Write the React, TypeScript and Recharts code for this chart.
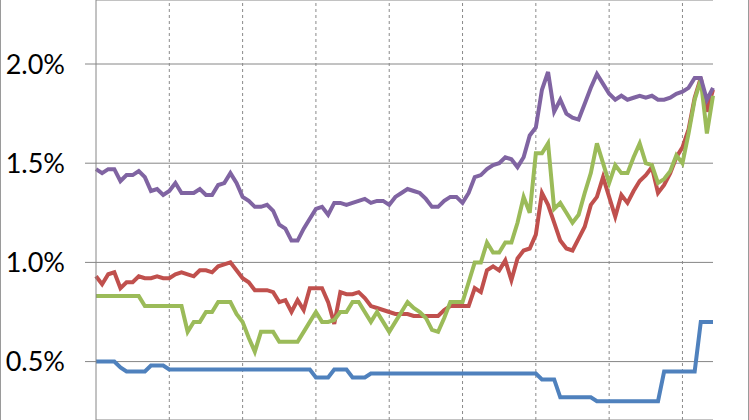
import React from 'react';
import { LineChart, Line, XAxis, YAxis, CartesianGrid, ReferenceLine } from 'recharts';

// monthly values, %
const blue = [
  0.50, 0.50, 0.50, 0.50, 0.47, 0.45, 0.45, 0.45, 0.45, 0.48, 0.48, 0.48,
  0.46, 0.46, 0.46, 0.46, 0.46, 0.46, 0.46, 0.46, 0.46, 0.46, 0.46, 0.46,
  0.46, 0.46, 0.46, 0.46, 0.46, 0.46, 0.46, 0.46, 0.46, 0.46, 0.46, 0.46,
  0.42, 0.42, 0.42, 0.46, 0.46, 0.46, 0.42, 0.42, 0.42, 0.44, 0.44, 0.44,
  0.44, 0.44, 0.44, 0.44, 0.44, 0.44, 0.44, 0.44, 0.44, 0.44, 0.44, 0.44,
  0.44, 0.44, 0.44, 0.44, 0.44, 0.44, 0.44, 0.44, 0.44, 0.44, 0.44, 0.44,
  0.44, 0.41, 0.41, 0.41, 0.32, 0.32, 0.32, 0.32, 0.32, 0.32, 0.30, 0.30,
  0.30, 0.30, 0.30, 0.30, 0.30, 0.30, 0.30, 0.30, 0.30, 0.45, 0.45, 0.45,
  0.45, 0.45, 0.45, 0.70, 0.70, 0.70,
];

const red = [
  0.93, 0.89, 0.94, 0.95, 0.87, 0.90, 0.90, 0.93, 0.92, 0.92, 0.93, 0.92,
  0.92, 0.94, 0.95, 0.94, 0.93, 0.96, 0.96, 0.95, 0.98, 0.99, 1.00, 0.96,
  0.92, 0.90, 0.86, 0.86, 0.86, 0.85, 0.80, 0.81, 0.75, 0.81, 0.76, 0.87,
  0.87, 0.87, 0.80, 0.69, 0.85, 0.84, 0.84, 0.85, 0.82, 0.78, 0.77, 0.76,
  0.75, 0.74, 0.74, 0.74, 0.73, 0.73, 0.73, 0.73, 0.73, 0.76, 0.78, 0.78,
  0.78, 0.78, 0.87, 0.85, 0.96, 0.98, 0.96, 1.01, 0.91, 1.02, 1.06, 1.07,
  1.14, 1.35, 1.29, 1.20, 1.11, 1.07, 1.06, 1.12, 1.18, 1.29, 1.33, 1.43,
  1.33, 1.23, 1.34, 1.30, 1.36, 1.41, 1.44, 1.48, 1.35, 1.39, 1.45, 1.53,
  1.58, 1.67, 1.83, 1.93, 1.76, 1.87,
];

const green = [
  0.83, 0.83, 0.83, 0.83, 0.83, 0.83, 0.83, 0.83, 0.78, 0.78, 0.78, 0.78,
  0.78, 0.78, 0.78, 0.65, 0.70, 0.70, 0.75, 0.75, 0.80, 0.80, 0.80, 0.74,
  0.70, 0.62, 0.55, 0.65, 0.65, 0.65, 0.60, 0.60, 0.60, 0.60, 0.65, 0.70,
  0.75, 0.70, 0.70, 0.71, 0.75, 0.75, 0.80, 0.80, 0.75, 0.70, 0.75, 0.70,
  0.65, 0.70, 0.75, 0.80, 0.77, 0.75, 0.72, 0.66, 0.65, 0.72, 0.80, 0.80,
  0.80, 0.90, 1.00, 1.00, 1.10, 1.05, 1.05, 1.10, 1.10, 1.20, 1.33, 1.25,
  1.55, 1.55, 1.60, 1.27, 1.30, 1.25, 1.20, 1.24, 1.35, 1.45, 1.60, 1.50,
  1.40, 1.49, 1.45, 1.45, 1.53, 1.60, 1.50, 1.49, 1.40, 1.42, 1.46, 1.54,
  1.50, 1.65, 1.82, 1.92, 1.65, 1.84,
];

const purple = [
  1.47, 1.45, 1.47, 1.47, 1.41, 1.44, 1.44, 1.46, 1.43, 1.36, 1.37, 1.34,
  1.36, 1.40, 1.35, 1.35, 1.35, 1.37, 1.34, 1.34, 1.39, 1.40, 1.45, 1.40,
  1.33, 1.31, 1.28, 1.28, 1.29, 1.26, 1.19, 1.17, 1.11, 1.11, 1.17, 1.22,
  1.27, 1.28, 1.24, 1.30, 1.30, 1.29, 1.30, 1.31, 1.32, 1.30, 1.31, 1.31,
  1.29, 1.33, 1.35, 1.37, 1.36, 1.35, 1.32, 1.28, 1.28, 1.31, 1.33, 1.33,
  1.30, 1.35, 1.43, 1.44, 1.47, 1.49, 1.50, 1.53, 1.52, 1.48, 1.53, 1.64,
  1.68, 1.87, 1.96, 1.76, 1.82, 1.75, 1.73, 1.72, 1.80, 1.88, 1.95, 1.90,
  1.85, 1.82, 1.84, 1.82, 1.83, 1.84, 1.83, 1.84, 1.82, 1.82, 1.83, 1.85,
  1.86, 1.88, 1.93, 1.93, 1.82, 1.88,
];

const yearTicks = [12, 24, 36, 48, 60, 72, 84, 96];
const yTicks = [0.5, 1.0, 1.5, 2.0];

const data = blue.map((b, i) => ({
  t: i,
  blue: b,
  red: red[i],
  green: green[i],
  purple: purple[i],
}));

const W = 749;
const H = 420;

export default function App() {
  return (
    <div style={{ position: 'absolute', left: 0, top: 0, width: W, height: H, background: '#fff', overflow: 'hidden' }}>
      <LineChart width={W} height={H} data={data} margin={{ top: 0, right: 36, left: 0, bottom: 0 }}>
        <CartesianGrid vertical={false} stroke="#868686" strokeWidth={1} />
        {yearTicks.map((x) => (
          <ReferenceLine key={x} x={x} stroke="#8a8a8a" strokeDasharray="3 3" strokeWidth={1} />
        ))}
        <XAxis dataKey="t" type="number" domain={[0, data.length - 1]} hide />
        <YAxis
          width={96}
          domain={[0.2056, 2.3226]}
          ticks={yTicks}
          allowDataOverflow
          tickFormatter={(v: number) => `${v.toFixed(1)}%`}
          tick={{ fill: '#000', fontSize: 27, fontFamily: 'Lato, "Open Sans", sans-serif' }}
          tickSize={11}
          tickMargin={20}
          stroke="#868686"
          axisLine={{ stroke: '#868686' }}
          tickLine={{ stroke: '#868686' }}
        />
        <Line type="linear" dataKey="blue" stroke="#4F81BD" strokeWidth={4} dot={false} isAnimationActive={false} />
        <Line type="linear" dataKey="red" stroke="#C0504D" strokeWidth={4} dot={false} isAnimationActive={false} />
        <Line type="linear" dataKey="green" stroke="#9BBB59" strokeWidth={4} dot={false} isAnimationActive={false} />
        <Line type="linear" dataKey="purple" stroke="#8064A2" strokeWidth={4} dot={false} isAnimationActive={false} />
      </LineChart>
      <div
        style={{
          position: 'absolute', left: 0, top: 0, width: W, height: H, boxSizing: 'border-box',
          borderLeft: '1px solid #9a9a9a', borderRight: '1px solid #9a9a9a', pointerEvents: 'none',
        }}
      />
    </div>
  );
}
